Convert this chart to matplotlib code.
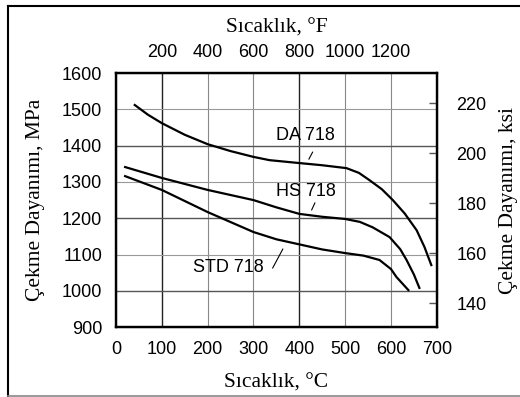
import matplotlib.pyplot as plt
from matplotlib.lines import Line2D

# data (temperature degC, strength MPa)
da_T = [41, 70, 100, 150, 200, 250, 300, 335, 400, 450, 503, 530, 553, 580, 604, 630, 656, 673, 688]
da_S = [1512, 1485, 1462, 1430, 1404, 1385, 1369, 1360, 1352, 1346, 1338, 1325, 1305, 1280, 1250, 1213, 1167, 1121, 1071]

hs_T = [20, 100, 200, 300, 350, 400, 450, 500, 532, 560, 597, 620, 634, 650, 662]
hs_S = [1341, 1311, 1278, 1250, 1230, 1212, 1204, 1198, 1190, 1175, 1148, 1115, 1085, 1045, 1008]

std_T = [20, 100, 200, 300, 350, 400, 450, 500, 540, 575, 600, 612, 625, 638]
std_S = [1316, 1278, 1217, 1162, 1142, 1128, 1114, 1104, 1097, 1085, 1060, 1038, 1020, 1002]

c_ticks = [0, 100, 200, 300, 400, 500, 600, 700]
mpa_ticks = [900, 1000, 1100, 1200, 1300, 1400, 1500, 1600]
f_labels = ['200', '400', '600', '800', '1000', '1200']
f_pos = [100, 200, 300, 400, 500, 600]
ksi_ticks = [140, 160, 180, 200, 220]
MPA_PER_KSI = 6.895

sans = 'Liberation Sans'
serif = 'Liberation Serif'
TS = 13     # tick label size
LS = 15.5   # axis label size

fig = plt.figure(figsize=(5.2, 3.97), dpi=100)
ax = fig.add_axes([0.223, 0.176, 0.617, 0.640])
ax.set_xlim(0, 700)
ax.set_ylim(900, 1600)

# grid, some lines darker like in the original print
for x in [100, 200, 300, 400, 500, 600]:
    dark = x in (100, 400)
    ax.axvline(x, color='#222' if dark else '#888', lw=1.0 if dark else 0.8, zorder=1)
for y in [1000, 1100, 1200, 1300, 1400, 1500]:
    dark = y in (1000, 1200, 1400)
    ax.axhline(y, color='#555' if dark else '#999', lw=1.0 if dark else 0.8, zorder=1)

ax.plot(da_T, da_S, color='black', lw=1.6, zorder=3)
ax.plot(hs_T, hs_S, color='black', lw=1.6, zorder=3)
ax.plot(std_T, std_S, color='black', lw=1.6, zorder=3)

ax.text(414, 1429, 'DA 718', fontsize=TS, family=sans, ha='center', va='center')
ax.text(414, 1275, 'HS 718', fontsize=TS, family=sans, ha='center', va='center')
ax.text(246, 1063, 'STD 718', fontsize=TS, family=sans, ha='center', va='center')
ax.plot([421, 429], [1363, 1382], color='black', lw=0.8)
ax.plot([427, 434], [1223, 1242], color='black', lw=0.8)
ax.plot([342, 364], [1063, 1115], color='black', lw=0.8)

ax.set_xticks(c_ticks)
ax.set_yticks(mpa_ticks)
ax.tick_params(axis='x', length=0, labelsize=TS, pad=10)
ax.tick_params(axis='y', length=0, labelsize=TS, pad=10)
for lab in ax.get_xticklabels() + ax.get_yticklabels():
    lab.set_family(sans)
ax.set_xlabel('Sıcaklık, °C', family=serif, fontsize=LS, labelpad=11)
ax.set_ylabel('Çekme Dayanımı, MPa', family=serif, fontsize=LS, labelpad=12)
for s in ax.spines.values():
    s.set_linewidth(1.6)

# top axis in degF
axt = ax.twiny()
axt.set_xlim(0, 700)
axt.set_xticks(f_pos)
axt.set_xticklabels(f_labels, family=sans)
axt.tick_params(length=0, labelsize=TS, pad=9)
axt.set_xlabel('Sıcaklık, °F', family=serif, fontsize=LS, labelpad=8)

# right axis in ksi
axr = ax.twinx()
axr.set_ylim(900 / MPA_PER_KSI, 1600 / MPA_PER_KSI)
axr.set_yticks(ksi_ticks)
axr.set_yticklabels([str(k) for k in ksi_ticks], family=sans)
axr.tick_params(direction='in', length=6, width=1, labelsize=TS, pad=14, color='#555')
axr.set_ylabel('Çekme Dayanımı, ksi', family=serif, fontsize=LS, labelpad=9)
for s in axr.spines.values():
    s.set_linewidth(1.6)

# frame lines around the picture (top, left dark, bottom grey)
fig.lines.append(Line2D([0.015, 1.0], [0.985, 0.985], transform=fig.transFigure, color='black', lw=1.5))
fig.lines.append(Line2D([0.015, 0.015], [0.003, 0.985], transform=fig.transFigure, color='black', lw=1.5))
fig.lines.append(Line2D([0.015, 1.0], [0.003, 0.003], transform=fig.transFigure, color='#888', lw=1.2))

fig.savefig('out.png', dpi=100)
